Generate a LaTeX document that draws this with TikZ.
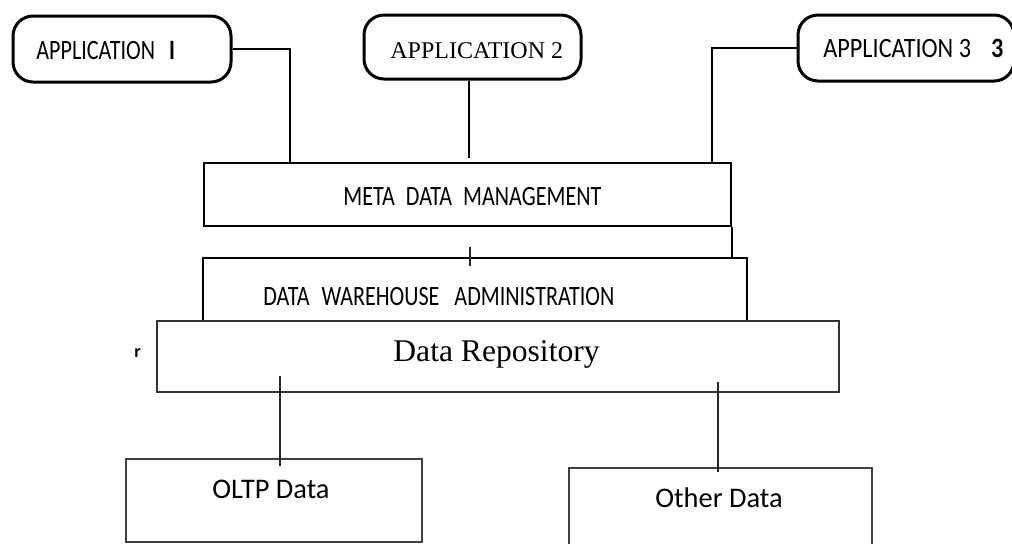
\documentclass[tikz,border=0pt]{standalone}
\usepackage{fontspec}
\setmainfont{Liberation Serif}
\newfontfamily\sansA[FakeStretch=0.79]{Carlito}
\newfontfamily\sansB[FakeStretch=0.865]{Carlito}
\newfontfamily\sansN{Carlito}
\usetikzlibrary{calc}
\begin{document}
\begin{tikzpicture}[x=0.5pt,y=-0.5pt,
  appbox/.style={draw, line width=1.5pt, rounded corners=10pt, inner sep=0pt},
  layerbox/.style={draw, line width=1.1pt, inner sep=0pt},
  repobox/.style={draw=black!80, line width=0.8pt, inner sep=0pt},
  databox/.style={draw=black!75, line width=0.7pt, inner sep=0pt},
  conn/.style={line width=1pt},
  thinconn/.style={line width=0.6pt, black!85},
  txt/.style={inner sep=0pt, anchor=base west}]
\clip (0,0) rectangle (1012,543);
% boxes
\node[appbox, minimum width=109pt, minimum height=33pt] (app1) at (122,49) {};
\node[appbox, minimum width=108.5pt, minimum height=32pt] (app2) at (472.5,47) {};
\node[appbox, minimum width=108pt, minimum height=33pt] (app3) at (906,48) {};
\node[layerbox, minimum width=263.5pt, minimum height=31.5pt] (mdm) at (467.5,194.5) {};
\node[layerbox, line width=1pt, minimum width=272pt, minimum height=31.5pt] (dwa) at (475,289.5) {};
\node[repobox, minimum width=341pt, minimum height=35.5pt] (repo) at (498,356.5) {};
\node[databox, minimum width=148pt, minimum height=41.5pt] (oltp) at (274,500.5) {};
\node[databox, minimum width=151.5pt, minimum height=46pt] (other) at (720.5,514) {};
% texts
\node[txt] (t1) at (36,59) {\sansA\fontsize{14pt}{14pt}\selectfont APPLICATION\hspace{7pt}{\bfseries I}};
\node[txt] (t2) at (390,58) {\fontsize{12pt}{12pt}\selectfont APPLICATION 2};
\node[txt] (t3) at (823,57) {\sansB\fontsize{14pt}{14pt}\selectfont APPLICATION 3\hspace{10pt}{\bfseries 3}};
\node[txt] (tm) at (343,205) {\sansA\fontsize{14pt}{14pt}\selectfont META\hspace{5.5pt}DATA\hspace{5.5pt}MANAGEMENT};
\node[txt] (td) at (263,305) {\sansA\fontsize{14pt}{14pt}\selectfont DATA\hspace{6pt}WAREHOUSE\hspace{7.5pt}ADMINISTRATION};
\node[txt] (tr) at (393,361) {\fontsize{15.8pt}{15.8pt}\selectfont Data Repository};
\node[txt] (tr0) at (134,357) {\sansN\fontsize{9pt}{9pt}\selectfont\bfseries r};
\node[txt] (to) at (212,498) {\sansN\fontsize{14.2pt}{14.2pt}\selectfont OLTP Data};
\node[txt] (tt) at (655,507) {\sansN\fontsize{14.2pt}{14.2pt}\selectfont Other Data};
% connector columns
\coordinate (k1) at (290,0);
\coordinate (k2) at (469,0);
\coordinate (k3) at (712,0);
\coordinate (k4) at (470,0);
\coordinate (k5) at (280,0);
\coordinate (k6) at (718,0);
% connectors
\draw[conn] (app1.east) -| (mdm.north -| k1);
\draw[conn] (app2.south -| k2) -- ($(mdm.north -| k2)+(0,-4)$);
\draw[conn] (app3.west) -| (mdm.north -| k3);
\draw[conn] (mdm.south east) -- (mdm.south east |- dwa.north);
\draw[thinconn] ($(dwa.north -| k4)+(0,-10)$) -- ($(dwa.north -| k4)+(0,9)$);
\draw[thinconn] ($(repo.south -| k5)+(0,-17)$) -- ($(oltp.north -| k5)+(0,8)$);
\draw[thinconn] ($(repo.south -| k6)+(0,-11)$) -- ($(other.north -| k6)+(0,5)$);
\end{tikzpicture}
\end{document}
